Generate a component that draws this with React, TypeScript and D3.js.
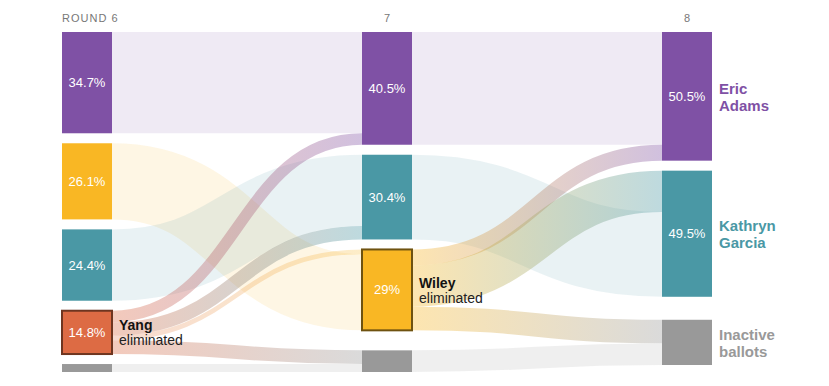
import React, { useEffect } from 'react';
import * as d3 from 'd3';

// ---- Data (ballots, thousands) ----
const roundLabels = ['ROUND 6', '7', '8'];

const nodeIds6 = ['Adams', 'Wiley', 'Garcia', 'Yang', 'Inactive'];
const nodeVotes6 = [318, 239, 224, 136, 25];
const nodePct6 = ['34.7%', '26.1%', '24.4%', '14.8%', ''];

const nodeIds7 = ['Adams', 'Garcia', 'Wiley', 'Inactive'];
const nodeVotes7 = [354, 266, 254, 68];
const nodePct7 = ['40.5%', '30.4%', '29%', ''];

const nodeIds8 = ['Adams', 'Garcia', 'Inactive'];
const nodeVotes8 = [404, 396, 142];
const nodePct8 = ['50.5%', '49.5%', ''];

const links67: [string, string, number][] = [
  ['Adams', 'Adams', 318],
  ['Wiley', 'Wiley', 239],
  ['Garcia', 'Garcia', 224],
  ['Inactive', 'Inactive', 25],
  ['Yang', 'Adams', 36],
  ['Yang', 'Garcia', 42],
  ['Yang', 'Wiley', 15],
  ['Yang', 'Inactive', 43],
];
const links78: [string, string, number][] = [
  ['Adams', 'Adams', 354],
  ['Garcia', 'Garcia', 266],
  ['Inactive', 'Inactive', 68],
  ['Wiley', 'Adams', 50],
  ['Wiley', 'Garcia', 130],
  ['Wiley', 'Inactive', 74],
];

const eliminated = ['Yang', 'Wiley']; // eliminated in round 6, round 7
const winnersLabels: Record<string, string[]> = {
  Adams: ['Eric', 'Adams'],
  Garcia: ['Kathryn', 'Garcia'],
  Inactive: ['Inactive', 'ballots'],
};

// ---- Styles / layout ----
const colors: Record<string, string> = {
  Adams: '#7f51a5',
  Wiley: '#f9b724',
  Garcia: '#4a98a5',
  Yang: '#dd6b44',
  Inactive: '#999999',
};
const borderColors: Record<string, string> = { Yang: '#6e3520', Wiley: '#6e5210' };
const labelColors: Record<string, string> = { Adams: '#7f51a5', Garcia: '#4a98a5', Inactive: '#999999' };
// links that enter their target above the continuing band
const transferFirst = [['Wiley', 'Inactive'], ['Garcia', 'Inactive']];
const inactiveExtraGap = [0, 10, 13];

const W = 829, H = 386;
const colX = [62, 362, 662];
const nodeW = 50;
const top = 32;
const pad = 10;
const font = '"Liberation Sans", Arial, Helvetica, sans-serif';

type Node = { id: string; col: number; y0: number; y1: number; v: number; pct: string; outY: number };

export default function App() {
  useEffect(() => {
    document.body.style.margin = '0';
  }, []);

  const total = d3.sum(nodeVotes6);
  const k = d3.scaleLinear().domain([0, total]).range([0, 300]);

  const cols = [
    { ids: nodeIds6, votes: nodeVotes6, pct: nodePct6 },
    { ids: nodeIds7, votes: nodeVotes7, pct: nodePct7 },
    { ids: nodeIds8, votes: nodeVotes8, pct: nodePct8 },
  ];
  const nodes: Node[][] = cols.map((c, ci) => {
    let y = top;
    return c.ids.map((id, i) => {
      if (i > 0) y += pad + (id === 'Inactive' ? inactiveExtraGap[ci] : 0);
      const h = k(c.votes[i]);
      const n = { id, col: ci, y0: y, y1: y + h, v: c.votes[i], pct: c.pct[i], outY: y };
      y += h;
      return n;
    });
  });

  type L = { x0: number; x1: number; ys: number; yt: number; w: number; s: string; t: string; own: boolean; key: string };
  const builtLinks: L[] = [];
  [links67, links78].forEach((ls, ci) => {
    const src = nodes[ci], tgt = nodes[ci + 1];
    const find = (arr: Node[], id: string) => arr.find((n) => n.id === id)!;
    const tgtSeq: Record<string, { l: [string, string, number]; i: number }[]> = {};
    ls.forEach((l, i) => {
      (tgtSeq[l[1]] = tgtSeq[l[1]] || []).push({ l, i });
    });
    const tOffset: Record<number, number> = {};
    Object.keys(tgtSeq).forEach((tid) => {
      let seq = tgtSeq[tid];
      if (transferFirst[ci].includes(tid)) {
        seq = [...seq.filter((o) => o.l[0] !== tid), ...seq.filter((o) => o.l[0] === tid)];
      }
      const tn = find(tgt, tid);
      let y = tn.y0;
      seq.forEach((o) => {
        tOffset[o.i] = y;
        y += k(o.l[2]);
      });
    });
    ls.forEach((l, i) => {
      const sn = find(src, l[0]);
      const w = k(l[2]);
      const ys = sn.outY + w / 2;
      sn.outY += w;
      builtLinks.push({
        x0: colX[ci] + nodeW,
        x1: colX[ci + 1],
        ys,
        yt: tOffset[i] + w / 2,
        w,
        s: l[0],
        t: l[1],
        own: l[0] === l[1],
        key: `l${ci}-${i}`,
      });
    });
  });

  const linkGen = d3
    .linkHorizontal<any, [number, number]>()
    .source((d: any) => d.source)
    .target((d: any) => d.target);

  const ownLinks = builtLinks.filter((l) => l.own);
  const transfers = builtLinks.filter((l) => !l.own);

  return (
    <svg width={W} height={H} style={{ display: 'block' }} fontFamily={font}>
      <defs>
        {transfers.map((l) => (
          <linearGradient key={l.key} id={'g' + l.key} gradientUnits="userSpaceOnUse" x1={l.x0} x2={l.x1} y1={0} y2={0}>
            <stop offset="0%" stopColor={colors[l.s]} />
            <stop offset="100%" stopColor={colors[l.t]} />
          </linearGradient>
        ))}
      </defs>

      {roundLabels.map((r, i) => (
        <text
          key={r}
          x={i === 0 ? colX[i] : colX[i] + nodeW / 2}
          y={22}
          textAnchor={i === 0 ? 'start' : 'middle'}
          fontSize={11}
          letterSpacing={i === 0 ? 1 : 0}
          fill="#777"
        >
          {r}
        </text>
      ))}

      <g fill="none">
        {ownLinks.map((l) => (
          <path
            key={l.key}
            d={linkGen({ source: [l.x0, l.ys], target: [l.x1, l.yt] } as any) as string}
            stroke={colors[l.s]}
            strokeOpacity={l.s === 'Inactive' ? 0.16 : 0.12}
            strokeWidth={l.w}
          />
        ))}
        {transfers.map((l) => (
          <path
            key={l.key}
            d={linkGen({ source: [l.x0, l.ys], target: [l.x1, l.yt] } as any) as string}
            stroke={`url(#g${l.key})`}
            strokeOpacity={l.t === 'Wiley' ? 0.25 : 0.36}
            strokeWidth={l.w}
          />
        ))}
      </g>

      {nodes.flat().map((n) => {
        const elim = eliminated[n.col] === n.id;
        return (
          <g key={n.col + n.id}>
            <rect
              x={colX[n.col]}
              y={n.y0}
              width={nodeW}
              height={n.y1 - n.y0}
              fill={colors[n.id]}
              stroke={elim ? borderColors[n.id] : 'none'}
              strokeWidth={elim ? 2 : 0}
            />
            {n.pct && (
              <text
                x={colX[n.col] + nodeW / 2}
                y={(n.y0 + n.y1) / 2}
                dy="0.35em"
                textAnchor="middle"
                fontSize={13}
                fill="#fff"
              >
                {n.pct}
              </text>
            )}
            {elim && (
              <g>
                <text x={colX[n.col] + nodeW + 7} y={(n.y0 + n.y1) / 2 - 2} fontSize={14} fontWeight="bold" fill="#121212">
                  {n.id}
                </text>
                <text x={colX[n.col] + nodeW + 7} y={(n.y0 + n.y1) / 2 + 13} fontSize={14} fill="#222">
                  eliminated
                </text>
              </g>
            )}
            {n.col === 2 &&
              winnersLabels[n.id].map((t, j) => (
                <text
                  key={t}
                  x={colX[n.col] + nodeW + 7}
                  y={(n.y0 + n.y1) / 2 - 2.5 + j * 17}
                  fontSize={15}
                  fontWeight="bold"
                  fill={labelColors[n.id]}
                >
                  {t}
                </text>
              ))}
          </g>
        );
      })}
    </svg>
  );
}
